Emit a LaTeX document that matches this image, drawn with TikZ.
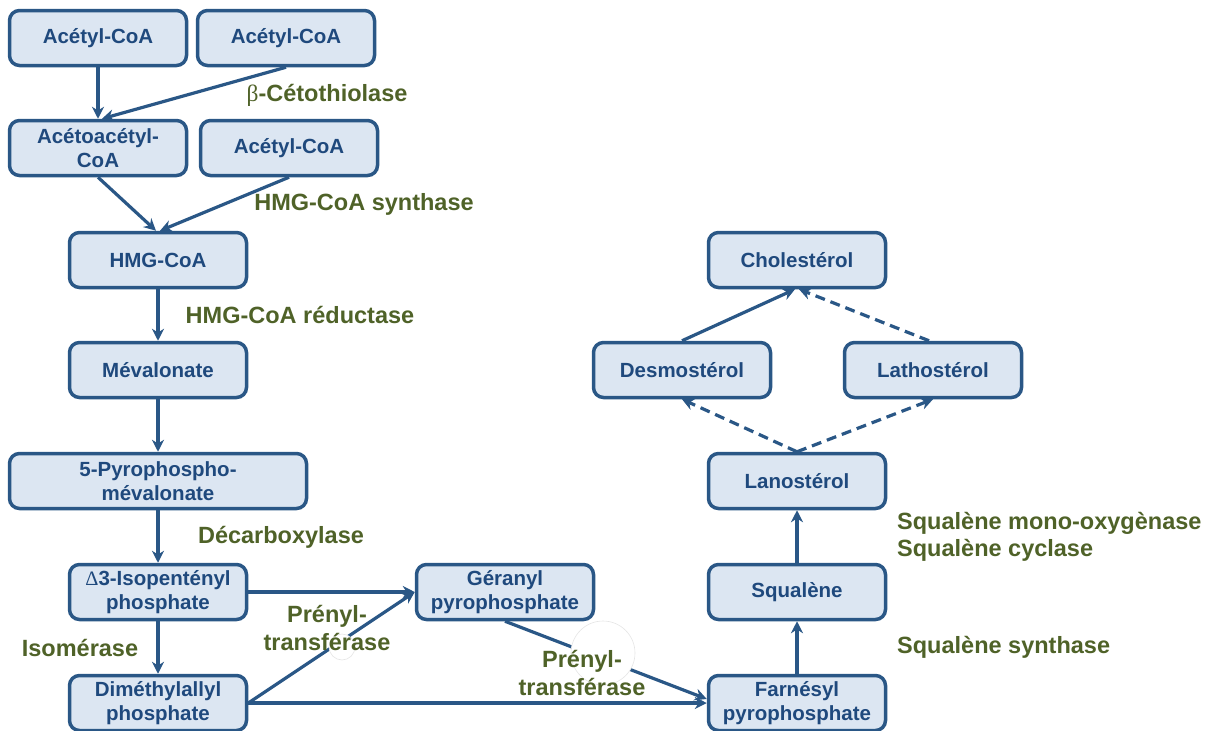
\documentclass[tikz,border=0pt]{standalone}
\usepackage{fontspec}
\setmainfont{Liberation Sans}
\newfontfamily\symfont{Liberation Serif}
\usetikzlibrary{arrows.meta}

\definecolor{boxfill}{HTML}{DCE6F2}
\definecolor{boxline}{HTML}{2A5786}
\definecolor{boxtext}{HTML}{1F497D}
\definecolor{enzgreen}{HTML}{4F6228}

\begin{document}
\begin{tikzpicture}[x=1pt, y=-1pt,
    molecule/.style={draw=boxline, fill=boxfill, line width=3.5pt, rounded corners=10pt,
        minimum width=177pt, minimum height=55pt, inner sep=0pt, align=center,
        text=boxtext, font=\fontsize{20.5}{24}\selectfont\bfseries},
    enzyme/.style={text=enzgreen, align=center, inner sep=0pt,
        font=\fontsize{23.5}{27.5}\selectfont\bfseries},
    react/.style={draw=boxline, line width=3.2pt, -{Stealth[length=12pt,width=12pt]}},
    maybe/.style={react, dash pattern=on 10pt off 6pt},
    patch/.style={fill=white, draw=black!10, line width=0.6pt}]
    \useasboundingbox (0, 0) rectangle (1211, 731);

    % mevalonate pathway
    \node[molecule] (acetylA) at (98, 38) {Acétyl-CoA};
    \node[molecule] (acetylB) at (286, 38) {Acétyl-CoA};
    \node[molecule] (acetoacetyl) at (98, 148) {Acétoacétyl-\\CoA};
    \node[molecule] (acetylC) at (289, 148) {Acétyl-CoA};
    \node[molecule] (hmgcoa) at (158, 260) {HMG-CoA};
    \node[molecule] (mevalonate) at (158, 370) {Mévalonate};
    \node[molecule, minimum width=297pt] (pyrophospho) at (158, 481) {5-Pyrophospho-\\mévalonate};
    \node[molecule] (isopentenyl) at (158, 592) {{\symfont\mdseries Δ}3-Isopentényl\\phosphate};
    \node[molecule] (dimethylallyl) at (158, 703) {Diméthylallyl\\phosphate};
    \node[molecule] (geranyl) at (505, 592) {Géranyl\\pyrophosphate};
    \node[molecule] (farnesyl) at (797, 703) {Farnésyl\\pyrophosphate};

    % sterols
    \node[molecule] (squalene) at (797, 592) {Squalène};
    \node[molecule] (lanosterol) at (797, 481) {Lanostérol};
    \node[molecule] (desmosterol) at (682, 370) {Desmostérol};
    \node[molecule] (lathosterol) at (933, 370) {Lathostérol};
    \node[molecule] (cholesterol) at (797, 260) {Cholestérol};

    \draw[react] (acetylA.south) -- (acetoacetyl.north);
    \draw[react] (acetylB.south) -- ([xshift=4pt]acetoacetyl.north);
    \draw[react] (acetoacetyl.south) -- ([xshift=-2pt]hmgcoa.north);
    \draw[react] (acetylC.south) -- ([xshift=2pt]hmgcoa.north);
    \draw[react] (hmgcoa) -- (mevalonate);
    \draw[react] (mevalonate) -- (pyrophospho);
    \draw[react] (pyrophospho) -- (isopentenyl);
    \draw[react] (isopentenyl) -- (dimethylallyl);
    \draw[react] (isopentenyl.east) -- (geranyl.west);
    \draw[react] (dimethylallyl.east) -- (geranyl.west);
    \draw[react] (dimethylallyl.east) -- (farnesyl.west);
    \draw[react] (geranyl.south) -- ([yshift=4pt]farnesyl.west);
    \draw[react] (farnesyl) -- (squalene);
    \draw[react] (squalene) -- (lanosterol);
    \draw[maybe] (lanosterol.north) -- (desmosterol.south);
    \draw[maybe] (lanosterol.north) -- (lathosterol.south);
    \draw[react] (desmosterol.north) -- ([xshift=-2pt]cholesterol.south);
    \draw[maybe] ([xshift=-4pt]lathosterol.north) -- ([xshift=2pt]cholesterol.south);

    \draw[patch] (342, 647) circle (13);
    \draw[patch] (603, 653) circle (32);

    % enzymes
    \node[enzyme] (thiolase) at (327, 95) {{\symfont\mdseries β}-Cétothiolase};
    \node[enzyme] (synthase) at (364, 204) {HMG-CoA synthase};
    \node[enzyme] (reductase) at (300, 315) {HMG-CoA réductase};
    \node[enzyme] (decarboxylase) at (281, 537) {Décarboxylase};
    \node[enzyme] (isomerase) at (80, 648) {Isomérase};
    \node[enzyme] (prenylA) at (327, 628) {Prényl-\\transférase};
    \node[enzyme] (prenylB) at (582, 673) {Prényl-\\transférase};
    \node[enzyme, align=left, anchor=west] (cyclase) at (897, 537) {Squalène mono-oxygènase\\Squalène cyclase};
    \node[enzyme, anchor=west] (sqsynthase) at (897, 647) {Squalène synthase};
\end{tikzpicture}
\end{document}
